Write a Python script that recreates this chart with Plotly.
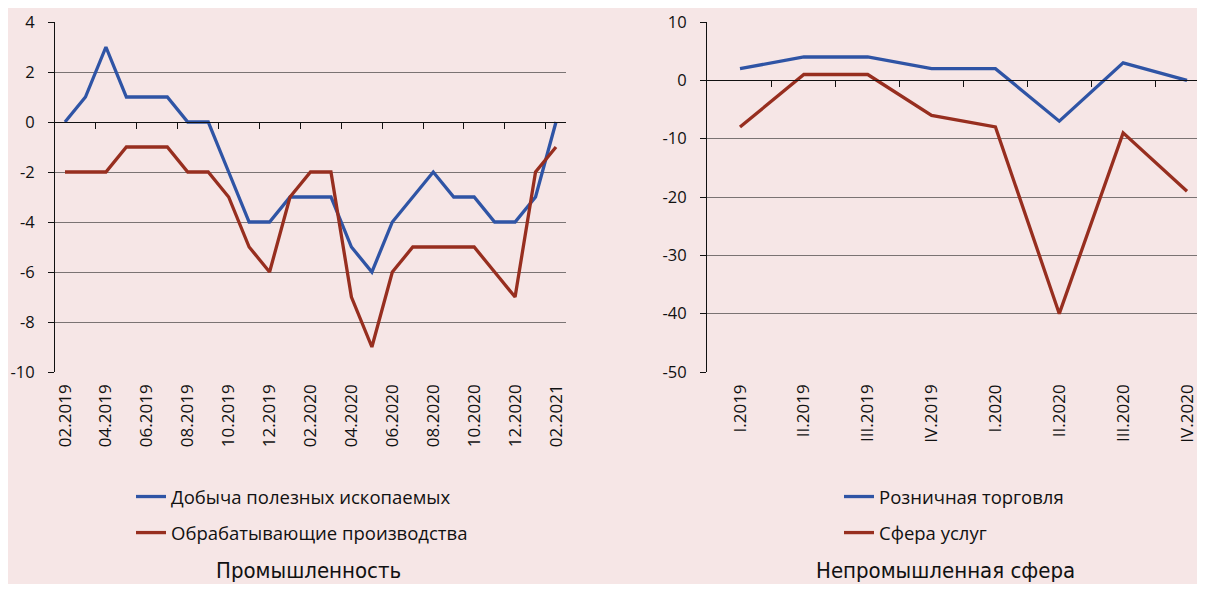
import plotly.graph_objects as go

# --- data ---
months = ["02.2019", "03.2019", "04.2019", "05.2019", "06.2019", "07.2019", "08.2019",
          "09.2019", "10.2019", "11.2019", "12.2019", "01.2020", "02.2020", "03.2020",
          "04.2020", "05.2020", "06.2020", "07.2020", "08.2020", "09.2020", "10.2020",
          "11.2020", "12.2020", "01.2021", "02.2021"]
mining = [0, 1, 3, 1, 1, 1, 0, 0, -2, -4, -4, -3, -3, -3, -5, -6, -4, -3, -2, -3, -3, -4, -4, -3, 0]
manufacturing = [-2, -2, -2, -1, -1, -1, -2, -2, -3, -5, -6, -3, -2, -2, -7, -9, -6, -5, -5, -5, -5, -6, -7, -2, -1]

quarters = ["I.2019", "II.2019", "III.2019", "IV.2019", "I.2020", "II.2020", "III.2020", "IV.2020"]
retail = [2, 4, 4, 2, 2, -7, 3, 0]
services = [-8, 1, 1, -6, -8, -40, -9, -19]

left_names = ["Добыча полезных ископаемых", "Обрабатывающие производства"]
right_names = ["Розничная торговля", "Сфера услуг"]
titles = ["Промышленность", "Непромышленная сфера"]

left_yticks = list(range(-10, 5, 2))
right_yticks = list(range(-50, 11, 10))

# --- style ---
# page body keeps an 8px margin, so the figure is sized to fit inside it
OFF = 8
W, H = 1205 - 2 * OFF, 592 - 2 * OFF
BG = "#f6e6e6"
BLUE = "#2f54a5"
RED = "#972e1f"
GRID = "#7a7373"
INK = "#111111"
FONT = "Open Sans, Noto Sans, sans-serif"
TITLE_FONT = "Liberation Sans Narrow, DejaVu Sans Condensed, Liberation Sans, sans-serif"


def sx(p):
    # screen pixel -> paper fraction
    return (p - OFF) / W


def sy(p):
    return 1 - (p - OFF) / H


def cat_range(axis_left, first, last, n, axis_right):
    step = (last - first) / (n - 1)
    return [(axis_left - first) / step, (axis_right - first) / step]


left_dom = [sx(55), sx(566)]
right_dom = [sx(707), 1.0]
y_dom = [sy(372), sy(22)]

left_yr = [-10, 4]
right_yr = [-50, 10]
left_xr = cat_range(55, 65, 556, len(months), 566)
right_xr = cat_range(707, 740, 1187, len(quarters), 1205 - OFF)


def zero_pos(yr):
    return y_dom[0] + (0 - yr[0]) / (yr[1] - yr[0]) * (y_dom[1] - y_dom[0])


fig = go.Figure()

for vals, name, col in [(mining, left_names[0], BLUE), (manufacturing, left_names[1], RED)]:
    fig.add_trace(go.Scatter(x=months, y=vals, name=name, mode="lines",
                             line=dict(color=col, width=3.3), legend="legend",
                             legendgroup=name, xaxis="x", yaxis="y"))

for vals, name, col in [(retail, right_names[0], BLUE), (services, right_names[1], RED)]:
    fig.add_trace(go.Scatter(x=quarters, y=vals, name=name, mode="lines",
                             line=dict(color=col, width=3.3), legend="legend2",
                             legendgroup=name, xaxis="x2", yaxis="y2"))

# empty traces so the zero-line axes get drawn
fig.add_trace(go.Scatter(x=[], y=[], xaxis="x3", yaxis="y", showlegend=False, hoverinfo="skip"))
fig.add_trace(go.Scatter(x=[], y=[], xaxis="x4", yaxis="y2", showlegend=False, hoverinfo="skip"))

cat_axis = dict(type="category", showline=False, ticks="", showgrid=False, zeroline=False,
                tickangle=-90, tickfont=dict(family=FONT, size=17, color=INK),
                ticklabelstandoff=8, fixedrange=True)
val_axis = dict(showline=True, linecolor=INK, linewidth=1, ticks="outside", ticklen=6,
                tickcolor=INK, showgrid=True, gridcolor=GRID, gridwidth=1.2,
                zeroline=False, tickfont=dict(family=FONT, size=16.5, color=INK),
                ticklabelstandoff=10, fixedrange=True)
zero_axis = dict(type="linear", anchor="free", showline=True, linecolor=INK, linewidth=1,
                 ticks="outside", ticklen=6, tickcolor=INK, showticklabels=False,
                 showgrid=False, zeroline=False, fixedrange=True)
legend_style = dict(xanchor="left", yanchor="top", bgcolor="rgba(0,0,0,0)",
                    font=dict(family=FONT, size=18.5, color=INK),
                    tracegroupgap=9, traceorder="grouped")
title_font = dict(family=TITLE_FONT, size=22, color=INK)

fig.update_layout(
    width=W, height=H,
    paper_bgcolor=BG, plot_bgcolor=BG,
    margin=dict(l=0, r=0, t=0, b=0, autoexpand=False),
    showlegend=True,
    xaxis=dict(cat_axis, domain=left_dom, anchor="y", range=left_xr,
               tickvals=months[::2], ticktext=months[::2]),
    yaxis=dict(val_axis, domain=y_dom, anchor="x", range=left_yr,
               tickvals=left_yticks, ticktext=[str(v) for v in left_yticks]),
    xaxis2=dict(cat_axis, domain=right_dom, anchor="y2", range=right_xr,
                tickvals=quarters, ticktext=quarters),
    yaxis2=dict(val_axis, domain=y_dom, anchor="x2", range=right_yr,
                tickvals=right_yticks, ticktext=[str(v) for v in right_yticks]),
    xaxis3=dict(zero_axis, domain=left_dom, overlaying="x", range=left_xr,
                position=zero_pos(left_yr),
                tickvals=[i + 0.5 for i in range(1, len(months) - 1, 2)]),
    xaxis4=dict(zero_axis, domain=right_dom, overlaying="x2", range=right_xr,
                position=zero_pos(right_yr),
                tickvals=[i + 0.5 for i in range(len(quarters) - 1)]),
    legend=dict(legend_style, x=sx(131), y=sy(478)),
    legend2=dict(legend_style, x=sx(839), y=sy(478)),
    annotations=[
        dict(text=titles[0], x=sx(308), y=sy(570), xref="paper", yref="paper",
             xanchor="center", yanchor="middle", showarrow=False, font=title_font),
        dict(text=titles[1], x=sx(945), y=sy(570), xref="paper", yref="paper",
             xanchor="center", yanchor="middle", showarrow=False, font=title_font),
    ],
)

fig.write_html("out.html")
